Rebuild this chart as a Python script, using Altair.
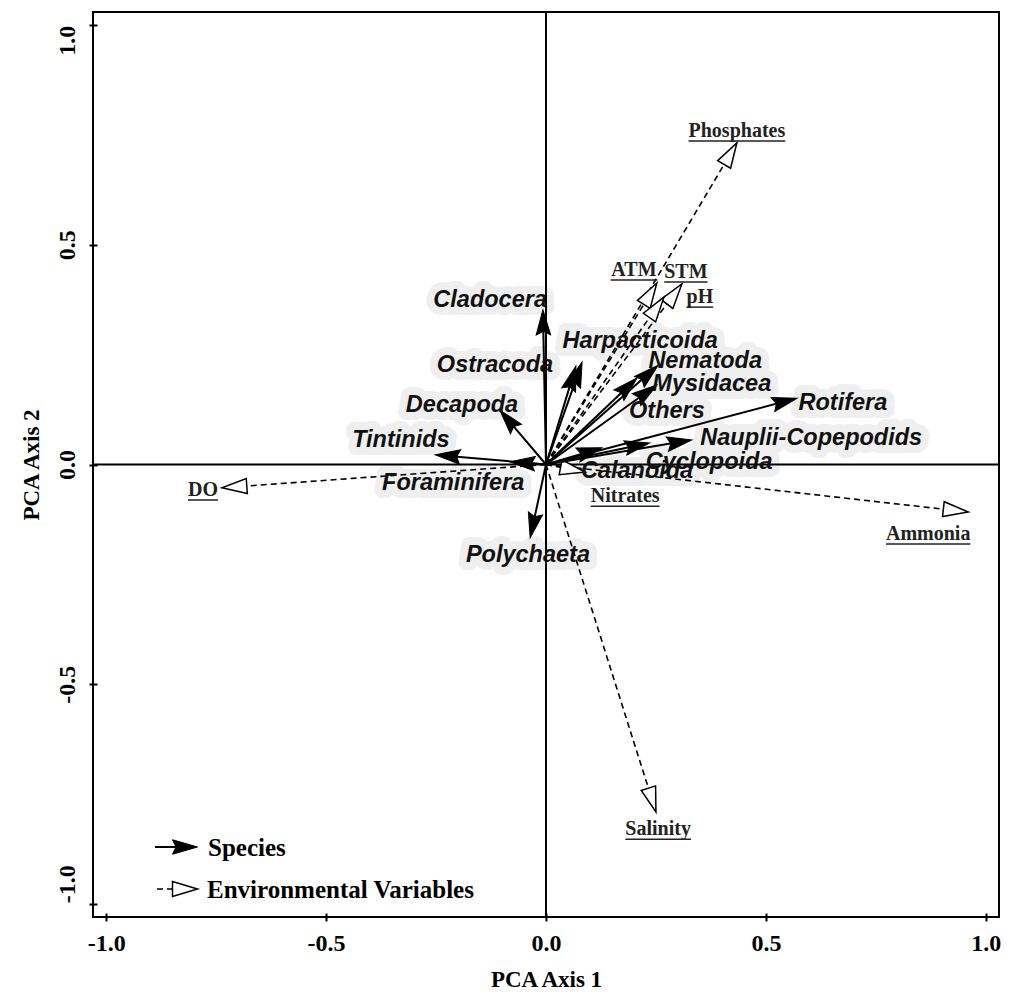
import math
import altair as alt
import pandas as pd

# ---------------- data ----------------
species = ["Cladocera", "Harpacticoida", "Ostracoda", "Nematoda", "Mysidacea", "Others",
           "Rotifera", "Decapoda", "Tintinids", "Nauplii-Copepodids", "Cyclopoida",
           "Calanoida", "Foraminifera", "Polychaeta"]
species_x = [-0.007, 0.082, 0.068, 0.255, 0.252, 0.207, 0.571, -0.105, -0.252, 0.332, 0.236, 0.127, -0.082, -0.036]
species_y = [0.352, 0.233, 0.224, 0.226, 0.181, 0.197, 0.151, 0.124, 0.022, 0.056, 0.049, 0.038, 0.006, -0.167]
species_label_x = [-0.127, 0.214, -0.116, 0.362, 0.377, 0.275, 0.675, -0.191, -0.330, 0.603, 0.371, 0.207, -0.211, -0.041]
species_label_y = [0.374, 0.281, 0.226, 0.236, 0.183, 0.122, 0.140, 0.135, 0.056, 0.060, 0.006, -0.015, -0.042, -0.206]

env_vars = ["Phosphates", "ATM", "STM", "pH", "Nitrates", "DO", "Ammonia", "Salinity"]
env_x = [0.434, 0.252, 0.309, 0.268, 0.089, -0.737, 0.960, 0.250]
env_y = [0.732, 0.413, 0.411, 0.381, -0.017, -0.053, -0.108, -0.791]
env_label_x = [0.434, 0.200, 0.318, 0.350, 0.180, -0.780, 0.869, 0.255]
env_label_y = [0.759, 0.443, 0.438, 0.381, -0.072, -0.058, -0.158, -0.830]

tick_values = [-1.0, -0.5, 0.0, 0.5, 1.0]
legend_items = ["Species", "Environmental Variables"]

# ---------------- layout ----------------
DOMAIN = [-1.03, 1.03]
W, H = 906, 905
PX_X = W / (DOMAIN[1] - DOMAIN[0])
PX_Y = H / (DOMAIN[1] - DOMAIN[0])
SERIF = "Liberation Serif"
SANS = "Liberation Sans"

HEAD_SOLID = "M1,0L-1,-0.58L-0.72,0L-1,0.58Z"
HEAD_OPEN = "M1,0L-1,-0.6L-1,0.6Z"
HEAD_LEN = 25


def arrow_frame(names, xs, ys, line_back):
    rows = []
    for n, x, y in zip(names, xs, ys):
        sx, sy = x * PX_X, -y * PX_Y
        d = math.hypot(sx, sy)
        ux, uy = sx / d, sy / d
        ang = math.degrees(math.atan2(uy, ux)) % 360
        rows.append(dict(
            name=n, x=x, y=y, x0=0.0, y0=0.0,
            hx=x - (HEAD_LEN / 2) * ux / PX_X, hy=y + (HEAD_LEN / 2) * uy / PX_Y,
            lx=x - line_back * ux / PX_X, ly=y + line_back * uy / PX_Y,
            ang=ang))
    return pd.DataFrame(rows)


# Times Bold advance widths (per 1000 em) for underline lengths
TB = {"P": 611, "h": 556, "o": 500, "s": 389, "p": 556, "a": 500, "t": 333, "e": 444,
      "A": 722, "T": 667, "M": 944, "S": 556, "H": 778, "N": 722, "i": 278, "r": 444,
      "D": 722, "O": 778, "m": 833, "n": 556, "l": 278, "y": 500}
ENV_FS = 20
SP_FS = 23.5


def text_w(s, fs):
    return sum(TB.get(c, 500) for c in s) / 1000 * fs


sp = arrow_frame(species, species_x, species_y, line_back=10)
sp["lab_x"] = species_label_x
sp["lab_y"] = species_label_y

ev = arrow_frame(env_vars, env_x, env_y, line_back=HEAD_LEN - 1)
ev["lab_x"] = env_label_x
ev["lab_y"] = env_label_y
ev["ul_x1"] = [lx - text_w(n, ENV_FS) / 2 / PX_X for n, lx in zip(env_vars, env_label_x)]
ev["ul_x2"] = [lx + text_w(n, ENV_FS) / 2 / PX_X for n, lx in zip(env_vars, env_label_x)]

zero = pd.DataFrame({"v": [0.0]})
one = pd.DataFrame({"k": [0]})

scale = alt.Scale(domain=DOMAIN, nice=False, zero=False)
label_expr = "replace(format(datum.value, '.1f'), '\u2212', '-')"

x_axis = alt.Axis(values=tick_values, labelExpr=label_expr, title="PCA Axis 1", grid=False,
                  domain=False, tickColor="black", tickWidth=2, tickSize=8, offset=-4,
                  labelFont=SERIF, labelFontWeight="bold", labelFontSize=24, labelColor="black",
                  labelPadding=10, titleFont=SERIF, titleFontWeight="bold", titleFontSize=23,
                  titleColor="black", titlePadding=13)
y_axis = alt.Axis(values=tick_values, labelExpr=label_expr, title="PCA Axis 2", grid=False,
                  domain=False, tickColor="black", tickWidth=2, tickSize=8, offset=-4,
                  labelAngle=270,
                  labelOffset={"condition": [{"test": "datum.value > 0.9", "value": 15},
                                             {"test": "datum.value < -0.9", "value": -20}],
                               "value": 0},
                  labelFont=SERIF, labelFontWeight="bold", labelFontSize=24, labelColor="black",
                  labelPadding=10, titleFont=SERIF, titleFontWeight="bold", titleFontSize=23,
                  titleColor="black", titlePadding=12)


def X(f):
    return alt.X(f"{f}:Q", scale=scale, axis=x_axis)


def Y(f):
    return alt.Y(f"{f}:Q", scale=scale, axis=y_axis)


# label halos (light hatched background in the original)
halo = alt.Chart(sp).mark_text(font=SANS, fontStyle="italic", fontWeight="bold", fontSize=SP_FS,
                               color="#efefef", stroke="#efefef", strokeWidth=16,
                               strokeJoin="round").encode(
    x=X("lab_x"), y=Y("lab_y"), text="name:N")

h_zero = alt.Chart(zero).mark_rule(color="black", strokeWidth=2).encode(y=Y("v"))
v_zero = alt.Chart(zero).mark_rule(color="black", strokeWidth=2).encode(x=X("v"))

env_lines = alt.Chart(ev).mark_rule(color="black", strokeWidth=1.6, strokeDash=[6, 4]).encode(
    x=X("x0"), y=Y("y0"), x2="lx", y2="ly")
env_heads = alt.Chart(ev).mark_point(shape=HEAD_OPEN, filled=True, fill="white", stroke="black",
                                     strokeWidth=1.5, opacity=1, size=HEAD_LEN ** 2).encode(
    x=X("hx"), y=Y("hy"), angle=alt.Angle("ang:Q", scale=None))

sp_lines = alt.Chart(sp).mark_rule(color="black", strokeWidth=2).encode(
    x=X("x0"), y=Y("y0"), x2="lx", y2="ly")
sp_heads = alt.Chart(sp).mark_point(shape=HEAD_SOLID, filled=True, fill="black", stroke="black",
                                    strokeWidth=1, opacity=1, size=HEAD_LEN ** 2).encode(
    x=X("hx"), y=Y("hy"), angle=alt.Angle("ang:Q", scale=None))

sp_text = alt.Chart(sp).mark_text(font=SANS, fontStyle="italic", fontWeight="bold", fontSize=SP_FS,
                                  color="#111111").encode(
    x=X("lab_x"), y=Y("lab_y"), text="name:N")

env_text = alt.Chart(ev).mark_text(font=SERIF, fontWeight="bold", fontSize=ENV_FS,
                                   color="#222222").encode(
    x=X("lab_x"), y=Y("lab_y"), text="name:N")
env_ul = alt.Chart(ev).mark_rule(color="#222222", strokeWidth=1.5, yOffset=10).encode(
    x=X("ul_x1"), x2="ul_x2", y=Y("lab_y"))

# legend (bottom-left), pixel positions inside the plot area
lg_sp_line = alt.Chart(one).mark_rule(color="black", strokeWidth=2).encode(
    x=alt.value(62), x2=alt.value(84), y=alt.value(835))
lg_sp_head = alt.Chart(one).mark_point(shape=HEAD_SOLID, filled=True, fill="black", stroke="black",
                                       strokeWidth=1, opacity=1, size=HEAD_LEN ** 2).encode(
    x=alt.value(92), y=alt.value(835))
lg_sp_text = alt.Chart(one).mark_text(font=SERIF, fontWeight="bold", fontSize=25, align="left",
                                      baseline="middle", color="black").encode(
    x=alt.value(115), y=alt.value(836), text=alt.value(legend_items[0]))
lg_ev_line = alt.Chart(one).mark_rule(color="black", strokeWidth=1.6, strokeDash=[6, 4]).encode(
    x=alt.value(64), x2=alt.value(80), y=alt.value(877))
lg_ev_head = alt.Chart(one).mark_point(shape=HEAD_OPEN, filled=True, fill="white", stroke="black",
                                       strokeWidth=1.5, opacity=1, size=HEAD_LEN ** 2).encode(
    x=alt.value(92), y=alt.value(877))
lg_ev_text = alt.Chart(one).mark_text(font=SERIF, fontWeight="bold", fontSize=25, align="left",
                                      baseline="middle", color="black").encode(
    x=alt.value(114), y=alt.value(878), text=alt.value(legend_items[1]))

chart = alt.layer(
    halo, h_zero, v_zero, env_lines, env_heads, sp_lines, sp_heads, sp_text, env_text, env_ul,
    lg_sp_line, lg_sp_head, lg_sp_text, lg_ev_line, lg_ev_head, lg_ev_text
).properties(
    width=W, height=H,
    padding={"left": 93, "top": 12, "right": 14, "bottom": 75},
    autosize=alt.AutoSizeParams(type="none"),
    background="white",
).configure_view(stroke="black", strokeWidth=2)

chart.save("out.html", embed_options={"renderer": "svg", "actions": False})
